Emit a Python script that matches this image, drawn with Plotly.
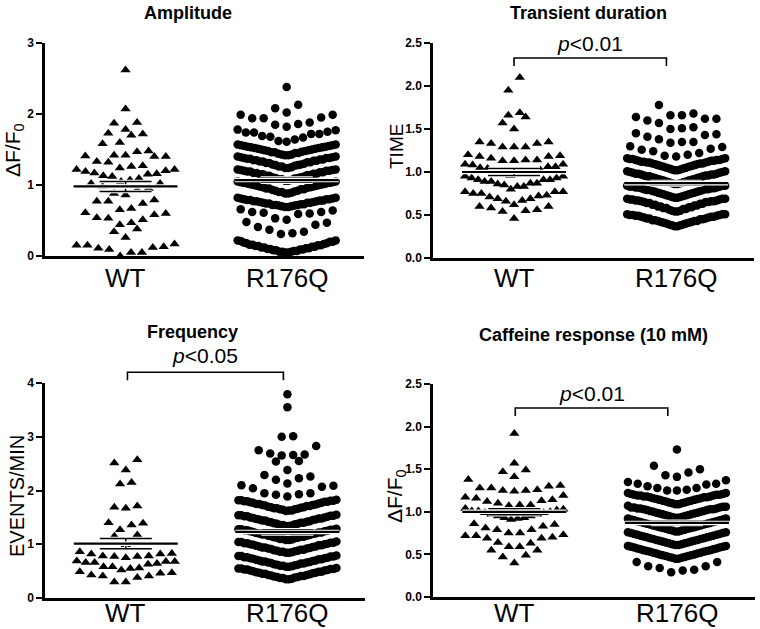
import plotly.graph_objects as go

# ---------------- data ----------------
GROUPS = ["WT", "R176Q"]
TITLES = ["Amplitude", "Transient duration", "Frequency", "Caffeine response (10 mM)"]
Y_TITLES = ["ΔF/F<sub>0</sub>", "TIME", "EVENTS/MIN", "ΔF/F<sub>0</sub>"]
P_TEXT = [None, "<i>p</i>&lt;0.01", "<i>p</i>&lt;0.05", "<i>p</i>&lt;0.01"]

AMP_TICKS = [0, 1, 2, 3]
DUR_TICKS = [0.0, 0.5, 1.0, 1.5, 2.0, 2.5]
FREQ_TICKS = [0, 1, 2, 3, 4]
CAF_TICKS = [0.0, 0.5, 1.0, 1.5, 2.0, 2.5]

AMP_WT = [2.62, 2.07, 1.87, 1.88, 1.78, 1.73, 1.72, 1.70, 1.60, 1.58, 1.48, 1.47, 1.42, 1.42,
          1.41, 1.40, 1.40, 1.33, 1.32, 1.27, 1.26, 1.24, 1.22, 1.22, 1.20, 1.19, 1.17, 1.16,
          1.15, 1.13, 1.12, 1.09, 1.07, 1.05, 1.02, 1.02, 0.98, 0.95, 0.93, 0.88, 0.86, 0.79,
          0.77, 0.77, 0.74, 0.67, 0.65, 0.61, 0.60, 0.58, 0.54, 0.53, 0.51, 0.47, 0.44, 0.38,
          0.34, 0.26, 0.17, 0.15, 0.15, 0.13, 0.12, 0.11, 0.09, 0.05, 0.05, 0.00]
AMP_R176Q = [
    0.05, 0.05, 0.06, 0.06, 0.06, 0.07, 0.07, 0.08, 0.08, 0.09, 0.09, 0.10, 0.10, 0.11, 0.11, 0.12, 0.12,
    0.13, 0.13, 0.14, 0.14, 0.15, 0.15, 0.16, 0.16, 0.17, 0.18, 0.18, 0.19, 0.20, 0.20, 0.21, 0.22, 0.22,
    0.31, 0.32, 0.34, 0.37, 0.41, 0.44, 0.47, 0.48,
    0.51, 0.53, 0.59, 0.60, 0.61, 0.62, 0.62, 0.64, 0.66,
    0.69, 0.69, 0.70, 0.70, 0.71, 0.71, 0.72, 0.72, 0.72, 0.73, 0.73, 0.74, 0.74, 0.75, 0.75, 0.75,
    0.76, 0.76, 0.77, 0.77, 0.77, 0.78, 0.78, 0.79, 0.79, 0.80, 0.80, 0.80, 0.81, 0.81, 0.82, 0.82,
    0.88, 0.88, 0.89, 0.90, 0.90, 0.91, 0.92, 0.92, 0.93, 0.94, 0.94, 0.95, 0.95, 0.96, 0.97, 0.97,
    0.98, 0.98, 0.99, 0.99, 1.00, 1.00, 1.01, 1.01, 1.02, 1.02, 1.03, 1.03, 1.04, 1.04, 1.05, 1.05,
    1.06, 1.06, 1.07, 1.08, 1.08, 1.09, 1.10, 1.10, 1.11, 1.11, 1.12, 1.13, 1.13, 1.14, 1.14, 1.15,
    1.15, 1.16, 1.16, 1.17, 1.17, 1.18, 1.18, 1.19, 1.19, 1.20, 1.20, 1.20, 1.21, 1.21, 1.22, 1.22,
    1.24, 1.24, 1.25, 1.26, 1.26, 1.27, 1.28, 1.28, 1.29, 1.29, 1.30, 1.31, 1.31, 1.32, 1.32, 1.33,
    1.33, 1.34, 1.34, 1.35, 1.35, 1.36, 1.36, 1.37, 1.37, 1.38, 1.38, 1.38, 1.39, 1.39, 1.40, 1.40,
    1.42, 1.42, 1.43, 1.43, 1.44, 1.45, 1.45, 1.46, 1.46, 1.47, 1.48, 1.48, 1.49, 1.49, 1.50,
    1.50, 1.51, 1.51, 1.52, 1.52, 1.53, 1.53, 1.54, 1.54, 1.55, 1.55, 1.56, 1.56, 1.57, 1.57,
    1.61, 1.62, 1.64, 1.67, 1.68, 1.69, 1.72, 1.72, 1.74, 1.74, 1.75, 1.77, 1.78,
    1.82, 1.85, 1.86, 1.88, 1.94, 1.94, 1.95, 1.99, 1.99,
    2.02, 2.08, 2.13, 2.38]
AMP_MEAN = [0.98, 1.07]
AMP_SEM = [0.07, 0.03]

DUR_WT = [2.10, 1.95, 1.69, 1.64, 1.66, 1.57, 1.50,
          1.35, 1.33, 1.29, 1.29, 1.29, 1.33, 1.35,
          1.14, 1.13, 1.19, 1.18, 1.18, 1.13, 1.14, 1.16, 1.20,
          1.06, 1.09, 1.09, 1.06, 1.04, 1.02, 1.05, 1.08,
          0.98, 0.93, 0.98, 0.95, 0.91, 0.97, 0.95, 0.98, 0.93, 0.96, 1.00,
          0.91, 0.89, 0.87, 0.86, 0.83, 0.80, 0.83, 0.87, 0.89, 0.91, 0.85,
          0.77, 0.75, 0.72, 0.69, 0.67, 0.66, 0.69, 0.71, 0.75, 0.77, 0.77, 0.73,
          0.60, 0.58, 0.55, 0.46, 0.54, 0.56, 0.60, 0.62]
DUR_R176Q = [
    0.37, 0.37, 0.38, 0.38, 0.39, 0.39, 0.40, 0.40, 0.41, 0.41, 0.42, 0.42, 0.43, 0.43, 0.43, 0.44, 0.44, 0.45,
    0.45, 0.46, 0.46, 0.46, 0.47, 0.47, 0.48, 0.48, 0.48, 0.49, 0.49, 0.49, 0.50, 0.50, 0.50, 0.51, 0.51, 0.51,
    0.54, 0.54, 0.55, 0.55, 0.56, 0.57, 0.57, 0.58, 0.58, 0.59, 0.59, 0.60, 0.60, 0.61, 0.61, 0.62, 0.62, 0.63,
    0.63, 0.64, 0.64, 0.65, 0.65, 0.65, 0.66, 0.66, 0.66, 0.67, 0.67, 0.67, 0.68, 0.68, 0.68, 0.69, 0.69, 0.69,
    0.70, 0.70, 0.71, 0.71, 0.72, 0.72, 0.73, 0.73, 0.74, 0.74, 0.75, 0.75, 0.76, 0.76, 0.77, 0.77, 0.78, 0.78,
    0.79, 0.79, 0.79, 0.80, 0.80, 0.80, 0.81, 0.81, 0.81, 0.82, 0.82, 0.82, 0.83, 0.83, 0.83, 0.84, 0.84, 0.84,
    0.86, 0.86, 0.87, 0.87, 0.88, 0.88, 0.89, 0.89, 0.90, 0.90, 0.91, 0.91, 0.92, 0.92, 0.93, 0.93, 0.94, 0.94,
    0.95, 0.95, 0.95, 0.96, 0.96, 0.96, 0.97, 0.97, 0.97, 0.98, 0.98, 0.98, 0.99, 0.99, 1.00, 1.00, 1.01, 1.01,
    1.02, 1.02, 1.03, 1.03, 1.04, 1.04, 1.05, 1.05, 1.06, 1.06, 1.07, 1.07, 1.08, 1.08, 1.09, 1.09, 1.10, 1.10,
    1.10, 1.11, 1.11, 1.11, 1.12, 1.12, 1.12, 1.13, 1.13, 1.13, 1.14, 1.14, 1.14, 1.15, 1.15, 1.15, 1.16, 1.16,
    1.18, 1.19, 1.20, 1.22, 1.24, 1.26, 1.27, 1.29, 1.30,
    1.34, 1.35, 1.35, 1.38, 1.41, 1.43, 1.44, 1.45,
    1.50, 1.51, 1.52, 1.57, 1.60, 1.62, 1.62, 1.64,
    1.66, 1.66, 1.68, 1.78]
DUR_MEAN = [1.00, 0.87]
DUR_SEM = [0.04, 0.02]

FREQ_WT = [2.57, 2.51, 2.38, 2.15, 2.12, 1.71, 1.67, 1.69, 1.40, 1.36, 1.39, 1.27, 1.17, 1.15, 0.99,
           0.78, 0.77, 0.75, 0.83, 0.82, 0.82, 0.86, 0.77, 0.78, 0.66, 0.68, 0.66, 0.68, 0.69, 0.64, 0.63,
           0.55, 0.49, 0.46, 0.41, 0.38, 0.30, 0.30, 0.41, 0.43, 0.47, 0.52, 0.58, 0.58, 0.56]
FREQ_R176Q = [
    0.35, 0.35, 0.36, 0.37, 0.37, 0.38, 0.39, 0.39, 0.40, 0.41, 0.41, 0.42, 0.43, 0.43, 0.44, 0.45, 0.45,
    0.46, 0.47, 0.47, 0.48, 0.49, 0.49, 0.50, 0.51, 0.51, 0.52, 0.53, 0.53, 0.54, 0.54, 0.55, 0.55, 0.56,
    0.58, 0.58, 0.59, 0.60, 0.60, 0.61, 0.62, 0.62, 0.63, 0.64, 0.64, 0.65, 0.66, 0.66, 0.67, 0.68, 0.68,
    0.69, 0.70, 0.70, 0.71, 0.72, 0.72, 0.73, 0.74, 0.74, 0.75, 0.76, 0.76, 0.77, 0.77, 0.78, 0.78, 0.79,
    0.84, 0.84, 0.85, 0.86, 0.86, 0.87, 0.88, 0.88, 0.89, 0.90, 0.90, 0.91, 0.92, 0.92, 0.93, 0.94, 0.94,
    0.95, 0.96, 0.96, 0.97, 0.98, 0.98, 0.99, 1.00, 1.00, 1.01, 1.02, 1.02, 1.03, 1.03, 1.04, 1.04, 1.05,
    1.08, 1.08, 1.09, 1.10, 1.10, 1.11, 1.12, 1.12, 1.13, 1.14, 1.14, 1.15, 1.16, 1.16, 1.17, 1.18, 1.18,
    1.19, 1.20, 1.20, 1.21, 1.22, 1.22, 1.23, 1.24, 1.24, 1.25, 1.26, 1.26, 1.27, 1.27, 1.28, 1.28, 1.29,
    1.34, 1.34, 1.35, 1.36, 1.36, 1.37, 1.38, 1.38, 1.39, 1.40, 1.40, 1.41, 1.42, 1.42, 1.43, 1.44, 1.44,
    1.45, 1.46, 1.46, 1.47, 1.48, 1.48, 1.49, 1.50, 1.50, 1.51, 1.52, 1.52, 1.53, 1.53, 1.54, 1.54, 1.55,
    1.62, 1.63, 1.63, 1.64, 1.65, 1.65, 1.66, 1.67, 1.67, 1.68, 1.69, 1.69, 1.70, 1.71, 1.71, 1.72, 1.73,
    1.73, 1.74, 1.75, 1.75, 1.76, 1.77, 1.77, 1.78, 1.79, 1.79, 1.80, 1.80, 1.81, 1.81, 1.82, 1.82, 1.83,
    1.89, 1.92, 1.93, 1.95, 1.95, 2.04, 2.07, 2.09, 2.10,
    2.13, 2.20, 2.23, 2.26, 2.29,
    2.38, 2.54, 2.55,
    2.65, 2.66, 2.67, 2.69, 2.75, 2.83,
    3.00, 3.01, 3.55, 3.79]
FREQ_MEAN = [1.01, 1.23]
FREQ_SEM = [0.095, 0.04]

CAF_WT = [1.92, 1.57, 1.47, 1.49, 1.38, 1.41,
          1.31, 1.28, 1.25, 1.24, 1.25, 1.26, 1.28, 1.30,
          1.17, 1.14, 1.10, 1.07, 1.08, 1.08, 1.13, 1.16, 1.19, 1.12,
          1.04, 1.01, 1.00, 0.99, 0.97, 0.95, 0.93, 0.92, 0.91, 0.93, 0.95, 0.97, 0.99, 1.01, 1.03, 1.02,
          0.85, 0.81, 0.79, 0.75, 0.72, 0.72, 0.75, 0.79, 0.83, 0.86,
          0.69, 0.63, 0.59, 0.55, 0.49, 0.40, 0.47, 0.55, 0.59, 0.64, 0.69, 0.73, 0.70]
CAF_R176Q = [
    0.29, 0.31, 0.32, 0.34, 0.36, 0.36, 0.41, 0.41,
    0.45, 0.45, 0.46, 0.46, 0.47, 0.47, 0.48, 0.48, 0.49, 0.49, 0.50, 0.50, 0.51, 0.51, 0.52, 0.52,
    0.53, 0.53, 0.54, 0.54, 0.55, 0.55, 0.56, 0.56, 0.57, 0.57, 0.58, 0.58, 0.59, 0.59, 0.60, 0.60,
    0.61, 0.61, 0.62, 0.62, 0.63, 0.63, 0.64, 0.64, 0.65, 0.65, 0.66, 0.66, 0.67, 0.67, 0.68, 0.68,
    0.69, 0.69, 0.70, 0.70, 0.71, 0.71, 0.72, 0.72, 0.73, 0.73, 0.74, 0.74, 0.75, 0.75, 0.76, 0.76,
    0.77, 0.77, 0.78, 0.78, 0.79, 0.79, 0.80, 0.80, 0.81, 0.81, 0.82, 0.82, 0.83, 0.83, 0.84, 0.84,
    0.85, 0.85, 0.86, 0.86, 0.87, 0.87, 0.88, 0.88, 0.89, 0.89, 0.90, 0.90, 0.91, 0.91, 0.92, 0.92,
    0.93, 0.93, 0.94, 0.94, 0.95, 0.95, 0.96, 0.96, 0.97, 0.97, 0.98, 0.98, 0.99, 0.99, 1.00, 1.00,
    1.01, 1.01, 1.02, 1.02, 1.03, 1.03, 1.03, 1.04, 1.04, 1.04, 1.05, 1.05, 1.05, 1.06, 1.06, 1.07,
    1.09, 1.09, 1.10, 1.10, 1.11, 1.11, 1.12, 1.12, 1.13, 1.13, 1.14, 1.14, 1.15, 1.15, 1.16, 1.16,
    1.17, 1.17, 1.17, 1.18, 1.18, 1.18, 1.19, 1.19, 1.19, 1.20, 1.20, 1.20, 1.21, 1.21, 1.22, 1.22,
    1.25, 1.25, 1.26, 1.28, 1.28, 1.30, 1.32, 1.33, 1.33, 1.35, 1.37,
    1.41, 1.43, 1.46, 1.50, 1.54,
    1.73]
CAF_MEAN = [1.00, 0.87]
CAF_SEM = [0.035, 0.02]

# ---------------- layout geometry (pixels in a 760x629 page) ----------------
W, H = 760, 629
XR = [-0.5, 1.48]
FONT = "Liberation Sans, Arial, Helvetica, sans-serif"

PANELS = [
    dict(wt=AMP_WT, mut=AMP_R176Q, mean=AMP_MEAN, sem=AMP_SEM, ticks=AMP_TICKS, fmt="{:.0f}",
         bw=0.18, x0=45, x1=364, yt=43, yb=256, ymax=3.0,
         title_xy=(188, 13), ytitle_xy=(14, 150), ytitle_size=21, xlab_y=278,
         bracket=None, ptext_y=None),
    dict(wt=DUR_WT, mut=DUR_R176Q, mean=DUR_MEAN, sem=DUR_SEM, ticks=DUR_TICKS, fmt="{:.1f}",
         bw=0.155, x0=433, x1=754, yt=43, yb=258, ymax=2.5,
         title_xy=(588, 13), ytitle_xy=(396, 146), ytitle_size=19, xlab_y=278,
         bracket=(0.0, 0.94, 2.326), ptext_y=43),
    dict(wt=FREQ_WT, mut=FREQ_R176Q, mean=FREQ_MEAN, sem=FREQ_SEM, ticks=FREQ_TICKS, fmt="{:.0f}",
         bw=0.22, x0=45, x1=365, yt=383, yb=598, ymax=4.0,
         title_xy=(192, 332), ytitle_xy=(17, 496), ytitle_size=20, xlab_y=613,
         bracket=(0.01, 0.975, 4.20), ptext_y=355),
    dict(wt=CAF_WT, mut=CAF_R176Q, mean=CAF_MEAN, sem=CAF_SEM, ticks=CAF_TICKS, fmt="{:.1f}",
         bw=0.155, x0=433, x1=755, yt=384, yb=597, ymax=2.5,
         title_xy=(593, 335), ytitle_xy=(396, 496), ytitle_size=21, xlab_y=613,
         bracket=(0.006, 0.944, 2.218), ptext_y=393),
]


def swarm(values, bw, ppu, dmax=11.5, wmax=98.0):
    """Prism-like column scatter: bin values, spread each bin horizontally,
    lowest values in the middle, highest at the edges."""
    vals = sorted(values)
    xs, ys = [], []
    i = 0
    while i < len(vals):
        start = vals[i]
        j = i
        while j < len(vals) and vals[j] < start + bw - 1e-9:
            j += 1
        row = vals[i:j]
        n = len(row)
        sp = dmax if n < 2 else min(dmax, wmax / (n - 1))
        offs = [(k - (n - 1) / 2.0) * sp for k in range(n)]
        order = sorted(range(n), key=lambda k: abs(offs[k]))
        arranged = []
        q = 0
        while q < len(order):
            if q + 1 < len(order) and abs(abs(offs[order[q]]) - abs(offs[order[q + 1]])) < 1e-9:
                a, b = order[q], order[q + 1]
                pair = sorted([a, b], key=lambda k: offs[k])
                if (len(arranged) // 2) % 2 == 1:
                    pair = pair[::-1]
                arranged.extend(pair)
                q += 2
            else:
                arranged.append(order[q])
                q += 1
        for v, k in zip(row, arranged):
            xs.append(offs[k] / ppu)
            ys.append(v)
        i = j
    return xs, ys


fig = go.Figure()
shapes, annotations = [], []
layout_axes = {}

for idx, p in enumerate(PANELS):
    sfx = "" if idx == 0 else str(idx + 1)
    xa, ya = "x" + sfx, "y" + sfx
    ppu = (p["x1"] - p["x0"]) / (XR[1] - XR[0])
    ppy = (p["yb"] - p["yt"]) / p["ymax"]

    for g, (vals, sym, size) in enumerate([(p["wt"], "triangle-up", 9), (p["mut"], "circle", 8.5)]):
        xs, ys = swarm(vals, p["bw"], ppu)
        fig.add_trace(go.Scatter(
            x=[g + x for x in xs], y=ys, mode="markers",
            marker=dict(symbol=sym, size=size, color="black", line=dict(width=0)),
            xaxis=xa, yaxis=ya, cliponaxis=False, showlegend=False, hoverinfo="skip"))

    # mean and SEM lines
    hw = 52 / ppu
    cw = 26 / ppu
    mx, my, sx, sy = [], [], [], []
    for g in range(2):
        m, s = p["mean"][g], p["sem"][g]
        mx += [g - hw, g + hw, None]
        my += [m, m, None]
        sx += [g - cw, g + cw, None, g - cw, g + cw, None, g, g, None]
        sy += [m + s, m + s, None, m - s, m - s, None, m - s, m + s, None]
    for xx, yy, wb, wf in [(sx, sy, 3.5, 1.5), (mx, my, 4.5, 2.2)]:
        fig.add_trace(go.Scatter(x=xx, y=yy, mode="lines", line=dict(color="white", width=wb),
                                 xaxis=xa, yaxis=ya, showlegend=False, hoverinfo="skip"))
        fig.add_trace(go.Scatter(x=xx, y=yy, mode="lines", line=dict(color="black", width=wf),
                                 xaxis=xa, yaxis=ya, showlegend=False, hoverinfo="skip"))

    layout_axes["xaxis" + sfx] = dict(
        domain=[p["x0"] / W, p["x1"] / W], range=XR, anchor=ya, automargin=False,
        tickmode="array", tickvals=[0, 1], showticklabels=False,
        showline=True, linecolor="black", linewidth=2.5, ticks="",
        showgrid=False, zeroline=False, fixedrange=True)
    layout_axes["yaxis" + sfx] = dict(
        domain=[1 - p["yb"] / H, 1 - p["yt"] / H], range=[0, p["ymax"]], anchor=xa, automargin=False,
        tickmode="array", tickvals=p["ticks"], ticktext=[p["fmt"].format(t) for t in p["ticks"]],
        showline=True, linecolor="black", linewidth=2.5, ticks="outside", ticklen=6, tickwidth=2,
        tickcolor="black", showgrid=False, zeroline=False,
        tickfont=dict(family=FONT, size=12, color="black", weight="bold"), fixedrange=True)

    # category labels under the x axis
    for g, name in enumerate(GROUPS):
        gx = p["x0"] + (g - XR[0]) * ppu
        annotations.append(dict(text=name, x=gx / W, y=1 - p["xlab_y"] / H,
                                xref="paper", yref="paper", xanchor="center", yanchor="middle",
                                showarrow=False, font=dict(family=FONT, size=26, color="black")))

    # panel title
    tx, ty = p["title_xy"]
    annotations.append(dict(text="<b>" + TITLES[idx] + "</b>", x=tx / W, y=1 - ty / H,
                            xref="paper", yref="paper", xanchor="center", yanchor="middle",
                            showarrow=False, font=dict(family=FONT, size=18, color="black")))
    # y-axis title
    yx, yy = p["ytitle_xy"]
    annotations.append(dict(text=Y_TITLES[idx], x=yx / W, y=1 - yy / H, textangle=-90,
                            xref="paper", yref="paper", xanchor="center", yanchor="middle",
                            showarrow=False, font=dict(family=FONT, size=p["ytitle_size"], color="black")))

    # significance bracket
    if p["bracket"] is not None:
        bx0, bx1, by = p["bracket"]
        px0 = p["x0"] + (bx0 - XR[0]) * ppu
        px1 = p["x0"] + (bx1 - XR[0]) * ppu
        pyb = p["yb"] - by * ppy
        tick = 8
        path = "M {:.4f},{:.4f} L {:.4f},{:.4f} L {:.4f},{:.4f} L {:.4f},{:.4f}".format(
            px0 / W, 1 - (pyb + tick) / H, px0 / W, 1 - pyb / H,
            px1 / W, 1 - pyb / H, px1 / W, 1 - (pyb + tick) / H)
        shapes.append(dict(type="path", path=path, xref="paper", yref="paper",
                           line=dict(color="black", width=1.6)))
        annotations.append(dict(text=P_TEXT[idx], x=(px0 + px1) / 2 / W, y=1 - p["ptext_y"] / H,
                                xref="paper", yref="paper", xanchor="center", yanchor="middle",
                                showarrow=False, font=dict(family=FONT, size=21, color="black")))

fig.update_layout(
    template="none",
    width=W, height=H, autosize=False,
    margin=dict(l=0, r=0, t=0, b=0, pad=0),
    paper_bgcolor="white", plot_bgcolor="white",
    showlegend=False, shapes=shapes, annotations=annotations,
    **layout_axes)

fig.write_html("out.html", config={"displayModeBar": False},
               post_script="document.body.style.margin='0px';")
